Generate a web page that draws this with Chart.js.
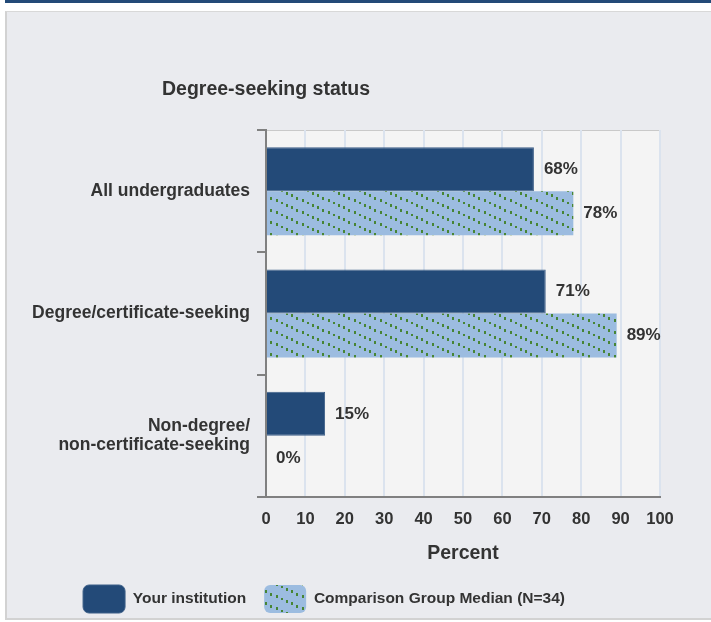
<!DOCTYPE html>
<html>
<head>
  <meta charset="utf-8">
  <title>Degree-seeking status</title>
  <script src="https://cdn.jsdelivr.net/npm/chart.js"></script>
  <style>
    html, body { margin: 0; padding: 0; background: #ffffff; overflow: hidden; }
    #topBar { position: absolute; left: 5px; top: 0; width: 706px; height: 3px; background: #234a78; }
    #panel { position: absolute; left: 5px; top: 11px; width: 706px; height: 609px;
             background: #eaebef; border-left: 2px solid #d2d2d2; border-top: 1px solid #d8d8d8;
             border-bottom: 2px solid #d2d2d2; box-sizing: border-box; }
    #wrap { position: absolute; left: 0; top: 0; width: 711px; height: 622px; }
  </style>
</head>
<body>
  <div id="topBar"></div>
  <div id="panel"></div>
  <div id="wrap"><canvas id="chart" width="711" height="622"></canvas></div>

  <script>
    // chart data
    const chartTitle = 'Degree-seeking status';
    const categories = ['All undergraduates', 'Degree/certificate-seeking', ['Non-degree/', 'non-certificate-seeking']];
    const seriesNames = ['Your institution', 'Comparison Group Median (N=34)'];
    const yourInstitution = [68, 71, 15];
    const comparisonMedian = [78, 89, 0];
    const xMin = 0, xMax = 100, xStep = 10;
    const xTitle = 'Percent';

    const FONT = '"Liberation Sans", Arial, sans-serif';
    const TEXT = '#333333';
    const DARK = '#234a78';

    // hatched fill: light blue with green dotted diagonals
    function makeHatch(){
      const c = document.createElement('canvas');
      c.width = 26; c.height = 12;
      const g = c.getContext('2d');
      g.fillStyle = '#9cbce0';
      g.fillRect(0, 0, 26, 12);
      g.fillStyle = '#478535';
      for (let i = 0; i < 5; i++) {
        const x = i * 5.2;
        const y = x * 12 / 26;
        g.fillRect(Math.round(x), Math.round(y), 2, 3);
      }
      return g.createPattern(c, 'repeat');
    }
    const hatch = makeHatch();

    // plot background + frame
    const plotBg = {
      id: 'plotBg',
      beforeDraw(chart){
        const {ctx, chartArea: a} = chart;
        ctx.save();
        ctx.fillStyle = '#f4f4f4';
        ctx.fillRect(a.left, a.top, a.right - a.left, a.bottom - a.top);
        ctx.strokeStyle = '#c9c9c9';
        ctx.lineWidth = 1;
        ctx.beginPath();
        ctx.moveTo(a.left, a.top + 0.5);
        ctx.lineTo(a.right - 0.5, a.top + 0.5);
        ctx.lineTo(a.right - 0.5, a.bottom);
        ctx.stroke();
        ctx.restore();
      }
    };

    // chart title, centred over the value axis start
    const titlePlugin = {
      id: 'titlePlugin',
      afterDraw(chart){
        const ctx = chart.ctx;
        ctx.save();
        ctx.font = 'bold 19.5px ' + FONT;
        ctx.fillStyle = TEXT;
        ctx.textAlign = 'center';
        ctx.textBaseline = 'middle';
        ctx.fillText(chartTitle, chart.chartArea.left, 90);
        ctx.restore();
      }
    };

    // value labels at the end of each bar
    const valueLabels = {
      id: 'valueLabels',
      afterDatasetsDraw(chart){
        const ctx = chart.ctx;
        ctx.save();
        ctx.font = 'bold 17px ' + FONT;
        ctx.fillStyle = TEXT;
        ctx.textAlign = 'left';
        ctx.textBaseline = 'middle';
        chart.data.datasets.forEach((ds, i) => {
          chart.getDatasetMeta(i).data.forEach((bar, j) => {
            ctx.fillText(ds.data[j] + '%', bar.x + 10, bar.y);
          });
        });
        ctx.restore();
      }
    };

    new Chart(document.getElementById('chart').getContext('2d'), {
      type: 'bar',
      data: {
        labels: categories,
        datasets: [
          {
            label: seriesNames[0],
            data: yourInstitution,
            backgroundColor: DARK,
            borderColor: '#3d5f88',
            borderWidth: 1,
            categoryPercentage: 0.72,
            barPercentage: 1
          },
          {
            label: seriesNames[1],
            data: comparisonMedian,
            backgroundColor: hatch,
            borderWidth: 0,
            categoryPercentage: 0.72,
            barPercentage: 1
          }
        ]
      },
      options: {
        indexAxis: 'y',
        responsive: false,
        animation: false,
        layout: { padding: { top: 130, right: 51, bottom: 0, left: -12 } },
        scales: {
          x: {
            min: xMin, max: xMax,
            afterFit(scale){ scale.height = 70; },
            ticks: { stepSize: xStep, color: TEXT, padding: 13, font: { family: FONT, size: 16.5, weight: 'bold' } },
            grid: { color: '#dbe3ee', lineWidth: 2, drawTicks: false },
            border: { color: '#808080', width: 2 },
            title: { display: true, text: xTitle, color: TEXT, padding: { top: 0, bottom: 2 },
                     font: { family: FONT, size: 19.5, weight: 'bold' } }
          },
          y: {
            afterFit(scale){ scale.width = 278; },
            ticks: { color: TEXT, padding: 7, font: { family: FONT, size: 17.5, weight: 'bold', lineHeight: 1.1 } },
            grid: { drawOnChartArea: false, drawTicks: true, tickLength: 9, color: '#808080', lineWidth: 2, offset: true },
            border: { color: '#808080', width: 2 }
          }
        },
        plugins: {
          legend: {
            position: 'bottom',
            maxHeight: 55,
            labels: {
              boxWidth: 42, boxHeight: 28, padding: 18,
              useBorderRadius: true, borderRadius: 6,
              color: TEXT,
              font: { family: FONT, size: 15.5, weight: 'bold' }
            }
          },
          tooltip: { enabled: false }
        }
      },
      plugins: [plotBg, titlePlugin, valueLabels]
    });
  </script>
</body>
</html>
